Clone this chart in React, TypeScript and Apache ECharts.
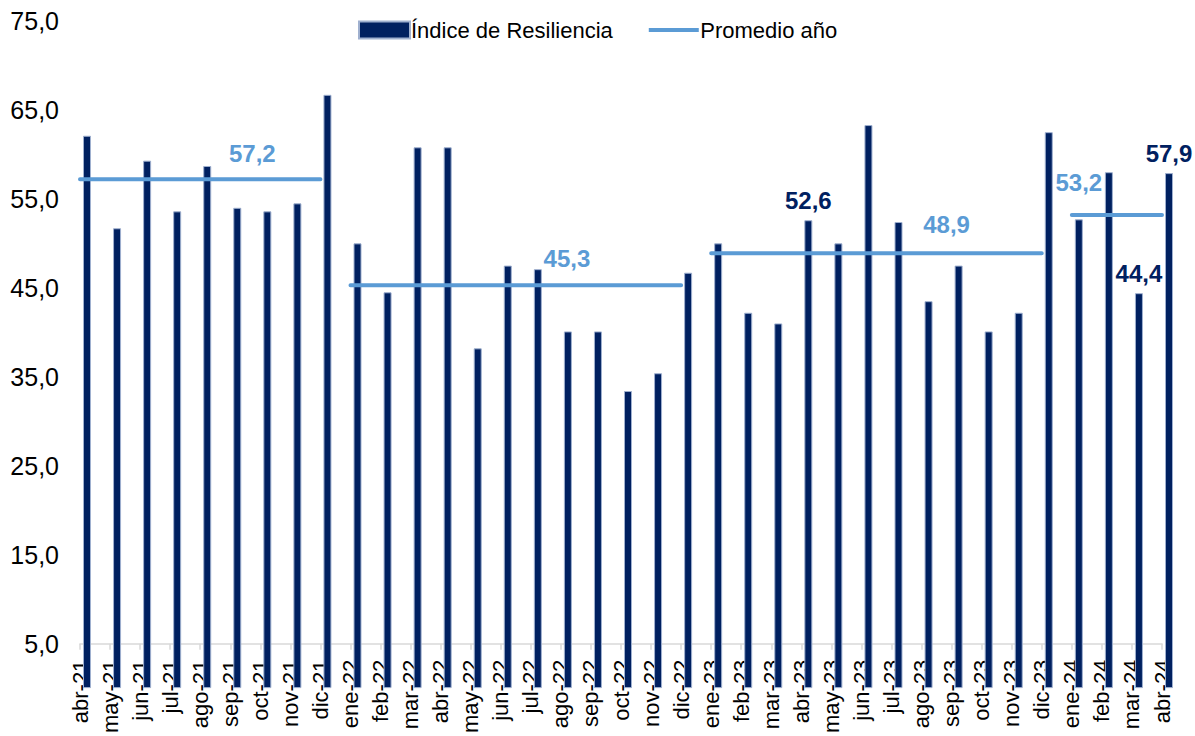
import React, { useEffect, useRef } from "react";
import * as echarts from "echarts";

const categories = [
  "abr-21", "may-21", "jun-21", "jul-21", "ago-21", "sep-21", "oct-21", "nov-21", "dic-21",
  "ene-22", "feb-22", "mar-22", "abr-22", "may-22", "jun-22", "jul-22", "ago-22", "sep-22", "oct-22", "nov-22", "dic-22",
  "ene-23", "feb-23", "mar-23", "abr-23", "may-23", "jun-23", "jul-23", "ago-23", "sep-23", "oct-23", "nov-23", "dic-23",
  "ene-24", "feb-24", "mar-24", "abr-24",
];

const indiceResiliencia = [
  62.1, 51.7, 59.3, 53.6, 58.7, 54.0, 53.6, 54.5, 66.7,
  50.0, 44.5, 60.8, 60.8, 38.2, 47.5, 47.1, 40.1, 40.1, 33.4, 35.4, 46.7,
  50.0, 42.2, 41.0, 52.6, 50.0, 63.3, 52.4, 43.5, 47.5, 40.1, 42.2, 62.5,
  52.7, 58.0, 44.4, 57.9,
];

const labeledMonths = ["abr-23", "mar-24", "abr-24"];

const yearSuffixes = ["-21", "-22", "-23", "-24"];
const promedioAnio = [57.2, 45.3, 48.9, 53.2];
// month where each average label is attached
const avgLabelMonths = ["oct-21", "ago-22", "sep-23", "ene-24"];

const yMin = 5;
const yMax = 75;
const yInterval = 10;

const NAVY = "#002060";
const LIGHT = "#5B9BD5";
const FONT = "'Liberation Sans', Arial, sans-serif";

const fmt = (v: number) => v.toFixed(1).replace(".", ",");

export default function App() {
  const ref = useRef<HTMLDivElement>(null);

  useEffect(() => {
    if (!ref.current) return;
    const chart = echarts.init(ref.current, null, { renderer: "svg" });

    const avgOffsets: [number, number][] = [
      [-8, -9],
      [6, -10],
      [-5, -12],
      [7, -15],
    ];

    const lineSeries = yearSuffixes.map((suf, i) => ({
      type: "line",
      name: "Promedio año",
      symbol: "circle",
      symbolSize: 0,
      showSymbol: true,
      showAllSymbol: true,
      z: 5,
      lineStyle: { color: LIGHT, width: 4, cap: "round" },
      itemStyle: { color: LIGHT },
      connectNulls: false,
      data: categories.map((c) => {
        if (!c.endsWith(suf)) return null;
        if (c === avgLabelMonths[i]) {
          return {
            value: promedioAnio[i],
            label: {
              show: true,
              position: "top",
              distance: 5,
              offset: avgOffsets[i],
              formatter: () => fmt(promedioAnio[i]),
              color: LIGHT,
              fontWeight: "bold",
              fontSize: 24,
              fontFamily: FONT,
            },
          };
        }
        return promedioAnio[i];
      }),
    }));

    const lineIcon =
      "path://M0,0h50v0.001h-50z M0,6.5h50v4h-50z M0,17h50v0.001h-50z";

    const option: any = {
      animation: false,
      backgroundColor: "#ffffff",
      textStyle: { fontFamily: FONT },
      grid: { left: 80, right: 33, top: 21, bottom: 89, containLabel: false },
      legend: {
        data: [
          { name: "Índice de Resiliencia", icon: "rect" },
          { name: "Promedio año", icon: lineIcon, itemStyle: { color: LIGHT } },
        ],
        left: 353,
        top: 14,
        itemWidth: 51,
        itemHeight: 17,
        itemGap: 36,
        textStyle: { fontSize: 22, color: "#000", fontFamily: FONT, padding: [0, 0, 0, -4] },
      },
      xAxis: {
        type: "category",
        data: categories,
        boundaryGap: false,
        axisLine: { show: true, lineStyle: { color: "#d9d9d9", width: 1.5 } },
        axisTick: { show: true, length: 6, lineStyle: { color: "#d9d9d9", width: 1.5 } },
        axisLabel: {
          interval: 0,
          rotate: 90,
          margin: 16,
          fontSize: 22,
          color: "#000",
          fontFamily: FONT,
        },
        splitLine: { show: false },
      },
      yAxis: {
        type: "value",
        min: yMin,
        max: yMax,
        interval: yInterval,
        axisLine: { show: false },
        axisTick: { show: false },
        splitLine: { show: false },
        axisLabel: {
          margin: 21,
          fontSize: 25,
          color: "#000",
          fontFamily: FONT,
          formatter: (v: number) => fmt(v),
        },
      },
      series: [
        {
          type: "bar",
          name: "pad",
          barWidth: 8,
          barGap: "75%",
          clip: false,
          data: categories.map(() => null),
          itemStyle: { color: "transparent" },
        },
        {
          type: "bar",
          name: "Índice de Resiliencia",
          barWidth: 8,
          barGap: "75%",
          clip: false,
          z: 2,
          itemStyle: { color: NAVY, borderColor: "#9fb0cf", borderWidth: 1 },
          data: categories.map((c, i) =>
            labeledMonths.includes(c)
              ? {
                  value: indiceResiliencia[i],
                  label: {
                    show: true,
                    position: "top",
                    distance: 8,
                    formatter: (p: any) => fmt(p.value),
                    color: NAVY,
                    fontWeight: "bold",
                    fontSize: 24,
                    fontFamily: FONT,
                  },
                }
              : indiceResiliencia[i]
          ),
        },
        ...lineSeries,
      ],
    };

    chart.setOption(option);
    return () => chart.dispose();
  }, []);

  return (
    <div
      ref={ref}
      style={{ position: "fixed", left: 0, top: 0, width: 1195, height: 736, background: "#fff" }}
    />
  );
}
